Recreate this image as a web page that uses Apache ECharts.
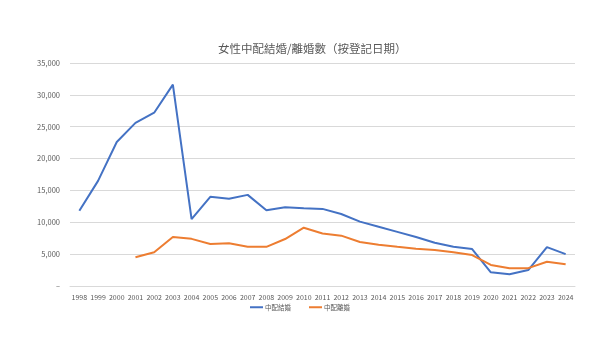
<!DOCTYPE html>
<html><head><meta charset="utf-8">
<script src="https://cdn.jsdelivr.net/npm/echarts@6/dist/echarts.min.js"></script>
<style>html,body{margin:0;padding:0;background:#fff}#c{width:600px;height:338px}</style>
</head><body><div id="c"></div>
<script>
const years = ['1998','1999','2000','2001','2002','2003','2004','2005','2006','2007','2008','2009','2010','2011','2012','2013','2014','2015','2016','2017','2018','2019','2020','2021','2022','2023','2024'];
const marriage = [11800,16500,22600,25600,27200,31600,10500,14000,13700,14300,11900,12350,12200,12100,11300,10100,9300,8500,7700,6800,6150,5800,2150,1830,2500,6100,5000];
const divorce = [null,null,null,4500,5300,7700,7400,6600,6700,6150,6150,7370,9150,8250,7900,6900,6480,6150,5850,5650,5280,4860,3300,2770,2800,3800,3400];
const titleText = '女性中配結婚/離婚數（按登記日期）';
const seriesNames = ['中配結婚','中配離婚'];

const chart = echarts.init(document.getElementById('c'));
const font = '"Noto Sans CJK TC","Noto Sans",sans-serif';
chart.setOption({
  animation:false,
  title:{text:titleText,left:213,top:38,textStyle:{fontSize:11.5,fontWeight:'normal',color:'#595959',fontFamily:font}},
  grid:{left:70,right:25,top:63,bottom:52},
  legend:{top:299,left:'center',itemWidth:13,itemHeight:2,itemGap:18,icon:'rect',
    textStyle:{fontSize:6.5,color:'#595959',fontFamily:font,padding:[0,0,0,-3]},data:seriesNames},
  xAxis:{type:'category',data:years,boundaryGap:true,
    axisLine:{lineStyle:{color:'#d9d9d9'}},axisTick:{show:false},
    axisLabel:{fontSize:7,color:'#595959',margin:8,interval:0,fontFamily:font}},
  yAxis:{type:'value',min:0,max:35000,interval:5000,
    axisLine:{show:false},axisTick:{show:false},
    splitLine:{lineStyle:{color:'#d9d9d9'}},
    axisLabel:{fontSize:7.5,color:'#595959',margin:10,fontFamily:font,
      formatter:v=>v===0?'–':v.toLocaleString('en-US')}},
  series:[
    {name:seriesNames[0],type:'line',data:marriage,symbol:'none',lineStyle:{color:'#4472C4',width:2},itemStyle:{color:'#4472C4'}},
    {name:seriesNames[1],type:'line',data:divorce,symbol:'none',lineStyle:{color:'#ED7D31',width:2},itemStyle:{color:'#ED7D31'}}
  ]
});
</script></body></html>
